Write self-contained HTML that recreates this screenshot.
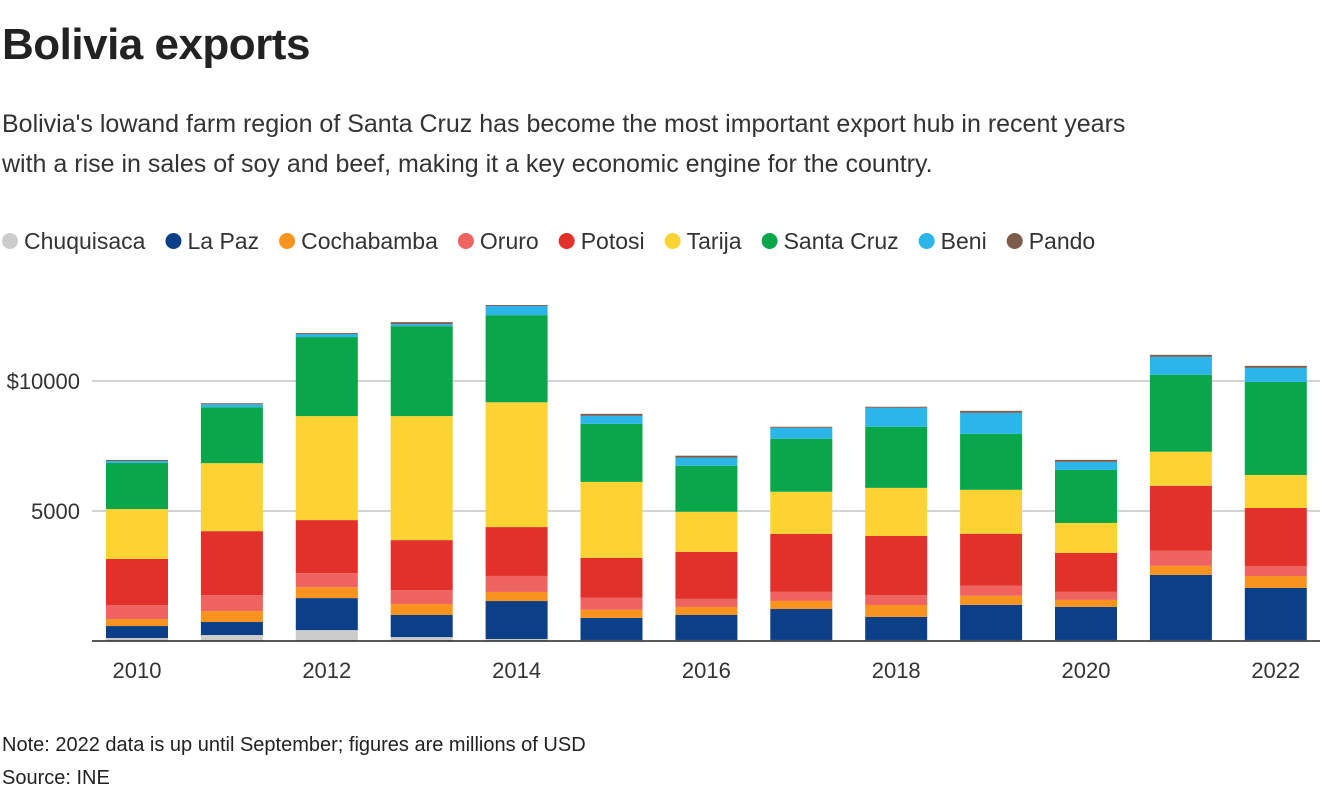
<!DOCTYPE html>
<html><head><meta charset="utf-8">
<style>
body{margin:0;width:1320px;height:800px;background:#fff;font-family:"Liberation Sans",sans-serif;color:#222;overflow:hidden;position:relative}
.t{position:absolute;white-space:nowrap}
</style></head><body>
<div class="t" style="left:2px;top:20px;font-size:44px;font-weight:bold;letter-spacing:-0.5px">Bolivia exports</div>
<div class="t" style="left:2px;top:104px;font-size:25px;line-height:40px;color:#333">Bolivia's lowand farm region of Santa Cruz has become the most important export hub in recent years<br>with a rise in sales of soy and beef, making it a key economic engine for the country.</div>
<div class="t" style="left:2px;top:734px;font-size:20px">Note: 2022 data is up until September; figures are millions of USD</div>
<div class="t" style="left:2px;top:767px;font-size:20px">Source: INE</div>
<svg id="chart" width="1320" height="800" style="position:absolute;left:0;top:0"></svg>
<script>
const years=[2010,2011,2012,2013,2014,2015,2016,2017,2018,2019,2020,2021,2022];
const seriesNames=["Chuquisaca","La Paz","Cochabamba","Oruro","Potosi","Tarija","Santa Cruz","Beni","Pando"];
const chuquisaca=[115,230,420,150,77,40,40,40,40,40,40,40,40];
const laPaz=[460,500,1230,850,1460,850,960,1190,885,1350,1270,2500,2000];
const cochabamba=[270,420,420,420,350,310,310,310,460,350,270,350,460];
const oruro=[540,615,540,540,615,460,310,350,385,385,310,580,385];
const potosi=[1770,2460,2040,1920,1880,1540,1810,2230,2270,2000,1500,2500,2230];
const tarija=[1920,2615,4000,4770,4800,2920,1540,1620,1850,1690,1150,1310,1270];
const santaCruz=[1770,2150,3040,3460,3350,2230,1770,2040,2350,2150,2040,2960,3580];
const beni=[80,115,115,77,350,310,310,420,730,810,310,690,540];
const pando=[40,40,40,77,40,77,77,40,40,77,77,77,77];
const yTicks=[5000,10000];
const yTickLabels=["5000","$10000"];
const xTickYears=[2010,2012,2014,2016,2018,2020,2022];
const series=[chuquisaca,laPaz,cochabamba,oruro,potosi,tarija,santaCruz,beni,pando];
const colors=["#cccccc","#0b3f87","#f7931e","#ef6461","#e1312a","#fdd333","#0aa64a","#2bb5e8","#7d5c4a"];
const NS="http://www.w3.org/2000/svg";
const svg=document.getElementById('chart');
const y0=641, pxPer=130/5000;
const yScale=v=>y0-v*pxPer;
const xScale=yr=>137+(yr-2010)*94.9;
const bw=62;
function mk(tag,attrs){const e=document.createElementNS(NS,tag);for(const k in attrs)e.setAttribute(k,attrs[k]);svg.appendChild(e);return e;}
yTicks.forEach((t,i)=>{
  const l=mk('line',{x1:92,x2:1320,y1:yScale(t),y2:yScale(t),stroke:'#bbb','stroke-width':1.3});
  
  
  const tx=mk('text',{x:80,y:yScale(t)+8,'text-anchor':'end','font-size':22,fill:'#333','font-family':'Liberation Sans, sans-serif'});
  tx.textContent=yTickLabels[i];
  
  
});
years.forEach((yr,i)=>{
  let acc=0;
  series.forEach((s,j)=>{
    const v=s[i];
    const r=mk('rect',{x:xScale(yr)-bw/2,y:yScale(acc+v),width:bw,height:v*pxPer,fill:colors[j]});
    
    
    acc+=v;
  });
});
const base=mk('line',{x1:92,x2:1320,y1:y0,y2:y0,stroke:'#222','stroke-width':1.5});


xTickYears.forEach(yr=>{
  const tx=mk('text',{x:xScale(yr),y:678,'text-anchor':'middle','font-size':22,fill:'#333','font-family':'Liberation Sans, sans-serif'});
  tx.textContent=yr;
  
  
});
// legend
let lx=2;
seriesNames.forEach((n,j)=>{
  const c=mk('circle',{cx:lx+8,cy:241,r:8,fill:colors[j]});
  
  
  const tx=mk('text',{x:lx+22,y:249,'font-size':23,fill:'#333','font-family':'Liberation Sans, sans-serif'});
  tx.textContent=n;
  
  
  lx+=22+tx.getComputedTextLength()+20;
});
</script>
</body></html>
